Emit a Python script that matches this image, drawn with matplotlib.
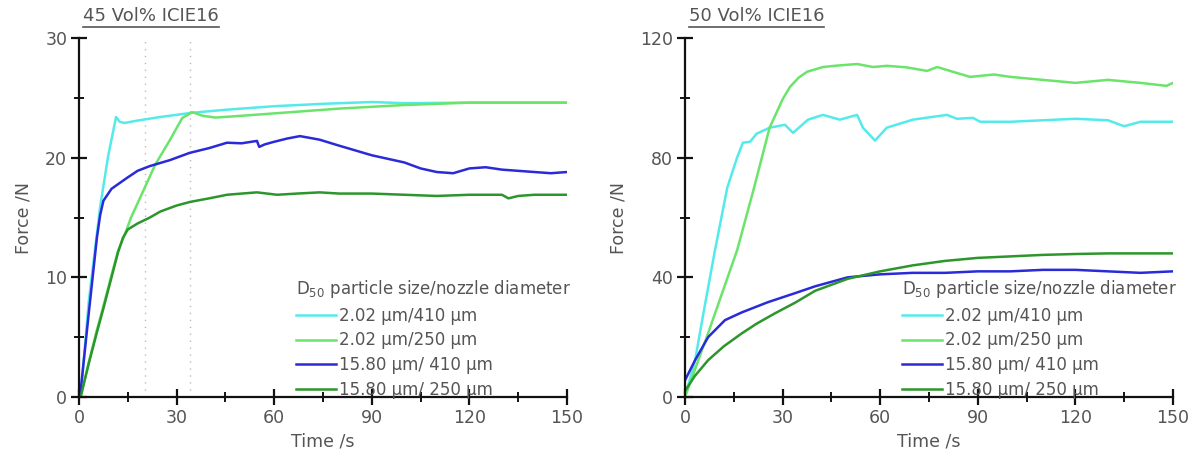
import matplotlib
matplotlib.use("Agg")
import matplotlib.pyplot as plt
from matplotlib.lines import Line2D

plt.rcParams['font.family'] = ['DejaVu Sans']
plt.rcParams['mathtext.fontset'] = 'dejavusans'

labels = ['2.02 µm/410 µm', '2.02 µm/250 µm', '15.80 µm/ 410 µm', '15.80 µm/ 250 µm']
colors = ['#55eaea', '#6be46b', '#2a2ad8', '#2c962c']
legend_title = 'D$_{50}$ particle size/nozzle diameter'

# ---- 45 Vol% ICIE16 ----
t45_a = [0.5, 3, 6.5, 9, 11.4, 12.5, 14, 18, 25, 34.7, 45, 60, 75, 90, 100, 120, 150]
f45_a = [0, 8, 15.9, 20.2, 23.4, 23.0, 22.9, 23.1, 23.4, 23.75, 24.0, 24.3, 24.5, 24.65, 24.55, 24.6, 24.6]

t45_b = [0.5, 3, 5.5, 7.4, 10, 12, 14.1, 16, 18.7, 23.4, 28, 31.7, 34.7, 36, 38, 42, 50, 60, 70, 80,
         90, 100, 110, 120, 135, 150]
f45_b = [0, 2.9, 5.6, 7.5, 10.2, 12.2, 13.6, 15.0, 16.6, 19.4, 21.5, 23.3, 23.8, 23.7, 23.5, 23.35, 23.5,
         23.7, 23.9, 24.1, 24.25, 24.4, 24.5, 24.6, 24.6, 24.6]

t45_c = [0.3, 3, 5.5, 6.5, 7.5, 10, 14.7, 18, 21.8, 28, 34, 40, 45.5, 50, 54.7, 55.4, 57, 59.6, 64,
         67.9, 70, 74, 80, 85, 90, 95, 100, 105, 110, 115, 120, 125, 130, 135, 140, 145, 150]
f45_c = [0, 7, 13.3, 15.2, 16.4, 17.4, 18.3, 18.9, 19.3, 19.8, 20.4, 20.8, 21.25, 21.2, 21.4, 20.9,
         21.1, 21.3, 21.6, 21.8, 21.7, 21.5, 21.0, 20.6, 20.2, 19.9, 19.6, 19.1, 18.8, 18.7, 19.1,
         19.2, 19.0, 18.9, 18.8, 18.7, 18.8]

t45_d = [0.5, 3, 5.5, 7.4, 10, 12, 13.5, 15, 18, 21.8, 25, 30, 34.1, 40, 45.5, 50, 54.7, 60.9, 67,
         74, 80, 90, 100, 110, 120, 130, 132, 135, 140, 150]
f45_d = [0, 2.8, 5.4, 7.3, 10.0, 12.1, 13.3, 14.0, 14.5, 15.0, 15.5, 16.0, 16.3, 16.6, 16.9, 17.0,
         17.1, 16.9, 17.0, 17.1, 17.0, 17.0, 16.9, 16.8, 16.9, 16.9, 16.6, 16.8, 16.9, 16.9]

# ---- 50 Vol% ICIE16 ----
t50_a = [0, 3.1, 6, 9.2, 13, 16, 17.8, 20, 22, 26, 30.7, 33.2, 35, 37.8, 42.4, 47.6, 52.9, 54.7,
         58.4, 62, 70, 80.5, 83.6, 88.5, 90.7, 100, 110, 120, 130, 135, 140, 150]
f50_a = [0, 12.3, 30, 49, 70, 80, 85, 85.3, 88, 90, 91, 88.3, 90, 92.7, 94.3, 92.7, 94.3, 90,
         85.7, 90, 92.7, 94.3, 93, 93.3, 92, 92, 92.5, 93, 92.5, 90.5, 92, 92]

t50_b = [0, 7.1, 16, 21, 26, 30, 32.3, 35, 37.5, 42.4, 47, 52.9, 57.8, 62, 68, 74.4, 77.5, 83.6,
         87.6, 95, 100, 110, 120, 130, 140, 148, 150]
f50_b = [0, 21.3, 49, 69, 90, 99.5, 103.7, 106.8, 108.7, 110.3, 110.8, 111.3, 110.3, 110.7, 110.2,
         109, 110.3, 108.3, 107, 107.8, 107, 106, 105, 106, 105, 104, 105]

t50_c = [0, 3.1, 7.1, 12.3, 17.5, 25.5, 33.8, 40, 50, 60, 70, 80, 90, 100, 110, 120, 130, 140, 150]
f50_c = [5.6, 12.3, 20, 25.7, 28.3, 31.7, 34.7, 37, 40, 41, 41.5, 41.5, 42, 42, 42.5, 42.5, 42, 41.5, 42]

t50_d = [0, 3, 7.1, 12, 17.5, 22, 27.7, 33.8, 40, 50, 60, 70, 80, 90, 100, 110, 120, 130, 140, 150]
f50_d = [2, 7, 12.3, 17, 21.3, 24.5, 28, 31.5, 35.5, 39.5, 42, 44, 45.5, 46.5, 47, 47.5, 47.8, 48, 48, 48]

panels = [
    ('45 Vol% ICIE16', [(t45_a, f45_a), (t45_b, f45_b), (t45_c, f45_c), (t45_d, f45_d)],
     30, [0, 10, 20, 30], [5, 15, 25], [20.3, 34.1]),
    ('50 Vol% ICIE16', [(t50_a, f50_a), (t50_b, f50_b), (t50_c, f50_c), (t50_d, f50_d)],
     120, [0, 40, 80, 120], [20, 60, 100], []),
]

fig = plt.figure(figsize=(11.95, 4.5), dpi=100)
lefts = [79 / 1195, 685 / 1195]
bottom = (450 - 397) / 450
height = (397 - 38) / 450
width = 488 / 1195

gray = '#555555'
titles = []
for left, (title, series, ymax, yticks, yminor, vlines) in zip(lefts, panels):
    ax = fig.add_axes([left, bottom, width, height])
    for x in vlines:
        ax.axvline(x, color='#bbbbbb', ls=(0, (1, 4)), lw=1)
    for (t, f), c, lab in zip(series, colors, labels):
        ax.plot(t, f, color=c, lw=1.8, label=lab)
    ax.set_xlim(0, 150)
    ax.set_ylim(0, ymax)
    ax.set_xticks([0, 30, 60, 90, 120, 150])
    ax.set_xticks([15, 45, 75, 105, 135], minor=True)
    ax.set_yticks(yticks)
    ax.set_yticks(yminor, minor=True)
    for s in ['top', 'right']:
        ax.spines[s].set_visible(False)
    for s in ['left', 'bottom']:
        ax.spines[s].set_linewidth(1.6)
        ax.spines[s].set_color('#111111')
    ax.tick_params(which='major', direction='inout', length=11, width=1.6, color='#111111',
                   labelsize=12.5, labelcolor=gray, pad=3)
    ax.tick_params(which='minor', direction='inout', length=7, width=1.4, color='#111111')
    ax.set_xlabel('Time /s', fontsize=12.5, color=gray, labelpad=4)
    ax.set_ylabel('Force /N', fontsize=12.5, color=gray, labelpad=9)
    leg = ax.legend(title=legend_title, loc='upper left', bbox_to_anchor=(0.43, 0.35),
                    frameon=False, fontsize=12, title_fontsize=12, handlelength=2.4,
                    handletextpad=0.2, labelspacing=0.4, borderaxespad=0, alignment='left')
    leg.get_title().set_color(gray)
    for txt in leg.get_texts():
        txt.set_color(gray)
    tt = ax.text(0.008, 1.035, title, transform=ax.transAxes, fontsize=13, color=gray,
                 ha='left', va='bottom')
    titles.append(tt)

fig.canvas.draw()
r = fig.canvas.get_renderer()
for tt in titles:
    bb = tt.get_window_extent(r).transformed(fig.transFigure.inverted())
    y = bb.y0 - 0.004
    fig.add_artist(Line2D([bb.x0, bb.x1], [y, y], transform=fig.transFigure, color=gray, lw=1.2))

fig.savefig('out.png', dpi=100)
